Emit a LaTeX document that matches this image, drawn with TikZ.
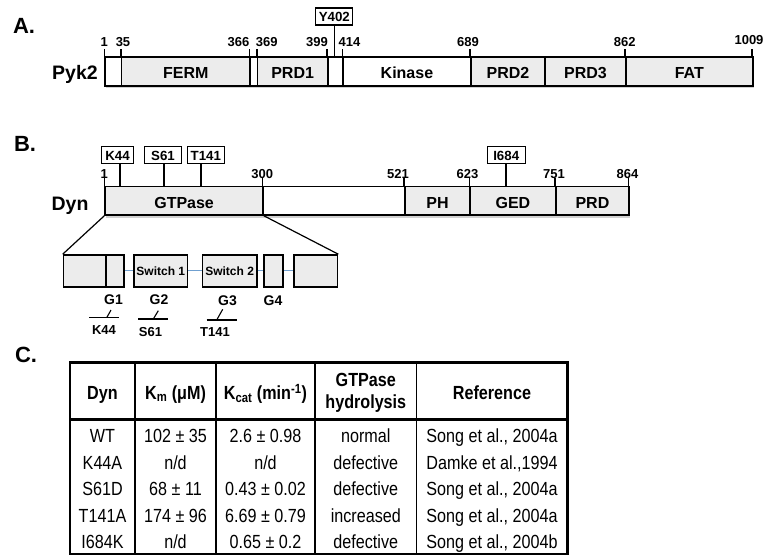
\documentclass[tikz,border=0pt]{standalone}
\usepackage{fontspec}
\setmainfont{Liberation Sans}
\newfontfamily\tabfont{Liberation Sans}[FakeStretch=0.85]
\usetikzlibrary{positioning}
\definecolor{domgray}{RGB}{236,236,236}
\definecolor{linkblue}{RGB}{112,160,208}

\begin{document}
\begin{tikzpicture}[x=1pt,y=-1pt,line width=1.6pt,
	seg/.style={draw,inner sep=0pt,anchor=west,text height=14.5pt,text depth=0pt,font=\bfseries\fontsize{16}{19}\selectfont},
	swbox/.style={draw,fill=domgray,inner sep=0pt,anchor=west,minimum height=31.7pt,text height=10pt,text depth=0pt,font=\bfseries\fontsize{12}{14}\selectfont},
	num/.style={inner sep=0pt,text height=9.3pt,text depth=0pt,font=\bfseries\fontsize{13}{15}\selectfont},
	mut/.style={draw,line width=1.1pt,inner sep=0pt,minimum height=17pt,text height=9.5pt,text depth=0pt,font=\bfseries\fontsize{13.3}{15}\selectfont},
	prot/.style={inner sep=0pt,text height=14pt,text depth=0pt,font=\bfseries\fontsize{19.5}{22}\selectfont},
	panel/.style={inner sep=0pt,text height=15.8pt,text depth=0pt,font=\bfseries\fontsize{22}{24}\selectfont},
	glab/.style={inner sep=0pt,text height=10pt,text depth=0pt,font=\bfseries\fontsize{14}{16}\selectfont},
	cell/.style={inner sep=0pt,text height=13.6pt,text depth=0pt,font=\tabfont\fontsize{19}{21.7}\selectfont},
	thead/.style={inner sep=0pt,align=center,font=\tabfont\bfseries\fontsize{19}{21.7}\selectfont},
	linker/.style={linkblue,line width=1pt}
	]
	\useasboundingbox (0,0) rectangle (765,556);

	% A. Pyk2
	\node[panel] (pA) at (24,26) {A.};
	\node[prot] (pyk2) at (75,72.5) {Pyk2};
	\fill[black!18] (106,86) rectangle (754,88.5);
	\foreach \xa/\xb/\fc/\lab/\nm in {104.3/120.7/white//gapa, 120.7/249.3/domgray/FERM/ferm, 249.3/256.7/white//gapb, 256.7/327/domgray/PRD1/prda, 327/342.3/white//gapc, 342.3/470/white/Kinase/kinase, 470/544.3/domgray/PRD2/prdb, 544.3/625/domgray/PRD3/prdc, 625/752/domgray/FAT/fat}{
		\pgfmathsetmacro\w{\xb-\xa}
		\node[seg,fill=\fc,minimum width=\w pt,minimum height=29pt] (\nm) at (\xa,71.5) {\lab};
	}
	\foreach \x in {104.3,120.7,249.3,256.7,327,342.3,470,625,752}
		\draw (\x,57) -- (\x,49);
	\foreach \x/\t in {104.3/1,123/35,238.5/366,266.7/369,317/399,349.5/414,468/689,624.7/862}
		\node[num] (na\t) at (\x,42) {\t};
	\node[num] (na1009) at (749,40) {1009};
	\node[mut,minimum width=37pt] (y402) at (334.3,16.5) {Y402};
	\coordinate (y402pos) at (334.3,57);
	\draw (y402) -- (y402pos);

	% B. Dyn
	\node[panel] (pB) at (25,144) {B.};
	\node[prot] (dyn) at (70,203) {Dyn};
	\fill[black!18] (106,215) rectangle (630.3,217.5);
	\foreach \xa/\xb/\fc/\lab/\nm in {104.3/262.3/domgray/GTPase/gtpase, 262.3/404/white//dlink, 404/469.3/domgray/PH/ph, 469.3/555/domgray/GED/ged, 555/628.3/domgray/PRD/prd}{
		\pgfmathsetmacro\w{\xb-\xa}
		\node[seg,fill=\fc,minimum width=\w pt,minimum height=28.3pt] (\nm) at (\xa,200.85) {\lab};
	}
	\foreach \x in {104.3,262.3,404,469.3,555,628.3}
		\draw (\x,186.7) -- (\x,178);
	\foreach \x/\t in {104.3/1,262.3/300,398/521,467.5/623,554/751,627.5/864}
		\node[num] (nb\t) at (\x,173.5) {\t};
	\foreach \bx/\bw/\lx/\t in {117.5/31.6/120/K44, 163/37.4/164/S61, 205.8/37/201/T141, 506.2/37.7/505.7/I684}{
		\node[mut,minimum width=\bw pt] (m\t) at (\bx,155.3) {\t};
		\coordinate (m\t pos) at (\lx,186.7);
		\draw (m\t.south -| m\t pos) -- (m\t pos);
	}

	% GTPase close-up
	\foreach \xa/\xb/\lab/\nm in {62.7/105//ea, 105/123.3//eb, 133.3/186.7/Switch 1/swa, 201.7/256/Switch 2/swb, 263.3/282.3//ec, 293.3/336.7//ed}{
		\pgfmathsetmacro\w{\xb-\xa}
		\node[swbox,minimum width=\w pt] (\nm) at (\xa,270.85) {\lab};
	}
	\draw[linker] (eb) -- (swa);
	\draw[linker] (swa) -- (swb);
	\draw[linker] (swb) -- (ec);
	\draw[linker] (ec) -- (ed);
	\draw[line width=1.2pt] (gtpase.south west) -- (ea.north west);
	\draw[line width=1.2pt] (gtpase.south east) -- (ed.north east);

	\node[glab] (g1) at (113.5,299.7) {G1};
	\node[glab] (g2) at (159,299.7) {G2};
	\node[glab] (g3) at (227.5,300.5) {G3};
	\node[glab] (g4) at (273,300) {G4};
	\foreach \xa/\xb/\yl/\sa/\sb/\sy/\lx/\ly/\t in {89.3/119.3/317.7/106.7/111/310/104/330/K44, 138.3/168.3/319/153.3/158.3/310.7/150.5/332/S61, 206.7/236.7/320/216.7/222.7/309.3/215/332/T141}{
		\draw[line width=1.3pt] (\xa,\yl) -- (\xb,\yl);
		\draw[line width=1.1pt] (\sa,\yl) -- (\sb,\sy);
		\node[num] (s\t) at (\lx,\ly) {\t};
	}

	% C. table
	\node[panel] (pC) at (26,355) {C.};
	\foreach \x in {135,216,315,416.7}
		\draw[line width=1.3pt] (\x,362.7) -- (\x,554);
	\draw[line width=2.8pt] (70,419.3) -- (567.7,419.3);
	\draw[line width=2.6pt] (70,362.7) rectangle (567.7,554);

	\node[thead,text height=13.6pt,text depth=0pt] (hdyn) at (102.5,392.5) {Dyn};
	\node[thead,text height=13.6pt,text depth=0pt] (hkm) at (175.5,392.5) {K\textsubscript{m} (μM)};
	\node[thead,text height=13.6pt,text depth=0pt] (hkcat) at (265.5,392.5) {K\textsubscript{cat} (min\textsuperscript{-1})};
	\node[thead] (hgtp) at (365.8,392.5) {GTPase\\hydrolysis};
	\node[thead,text height=13.6pt,text depth=0pt] (href) at (492,392.5) {Reference};

	\foreach \dn/\km/\kc/\gh/\rf [count=\i] in {WT/{102 ± 35}/{2.6 ± 0.98}/normal/{Song et al., 2004a}, K44A/{n/d}/{n/d}/defective/{Damke et al.,1994}, S61D/{68 ± 11}/{0.43 ± 0.02}/defective/{Song et al., 2004a}, T141A/{174 ± 96}/{6.69 ± 0.79}/increased/{Song et al., 2004a}, I684K/{n/d}/{0.65 ± 0.2}/defective/{Song et al., 2004b}}{
		\pgfmathsetmacro\yy{436+26.5*(\i-1)}
		\node[cell] (rdyn\i) at (102.5,\yy) {\dn};
		\node[cell] (rkm\i) at (175.5,\yy) {\km};
		\node[cell] (rkc\i) at (265.5,\yy) {\kc};
		\node[cell] (rgh\i) at (365.8,\yy) {\gh};
		\node[cell] (rref\i) at (492,\yy) {\rf};
	}
\end{tikzpicture}
\end{document}
